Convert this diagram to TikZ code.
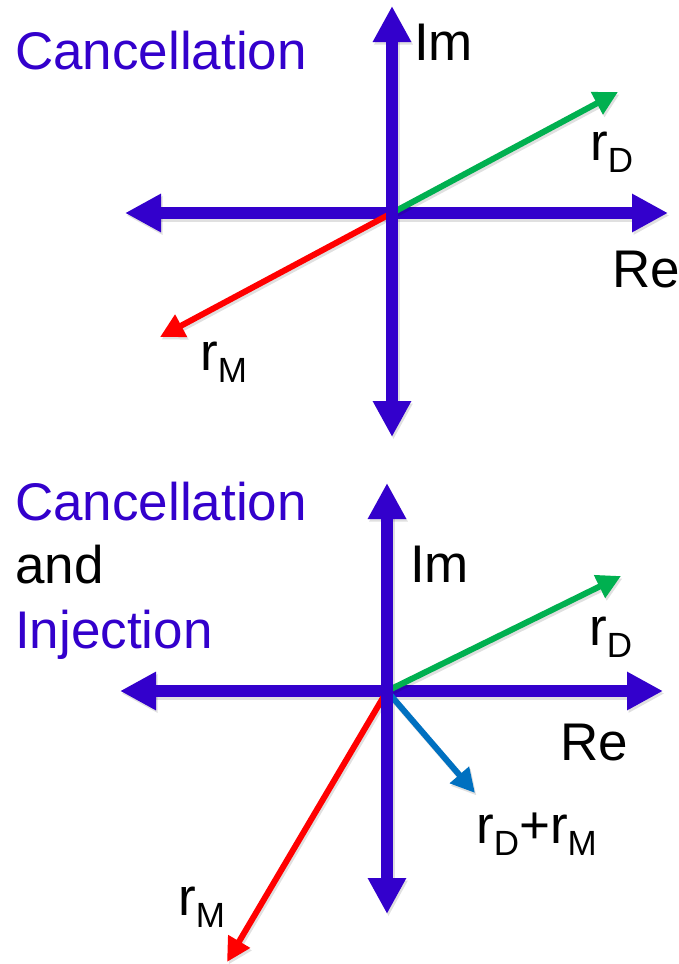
\documentclass[tikz,border=0pt]{standalone}
\usepackage{fontspec}
\setmainfont{Liberation Sans}
\usetikzlibrary{arrows.meta}
\definecolor{axpurple}{RGB}{51,0,204}
\definecolor{vgreen}{RGB}{0,176,80}
\definecolor{vred}{RGB}{255,0,0}
\definecolor{vblue}{RGB}{0,112,192}
\newcommand\subtxt[1]{\raisebox{-12pt}{\fontsize{35}{35}\selectfont #1}}
\tikzset{
  axis/.style={draw=axpurple, line width=12pt, {Triangle[length=36pt,width=36pt]}-{Triangle[length=36pt,width=36pt]}},
  axshadow/.style={draw=black, opacity=0.12, line width=12pt, {Triangle[length=36pt,width=36pt]}-{Triangle[length=36pt,width=36pt]}, transform canvas={shift={(1.5pt,-2.5pt)}}},
  vec/.style={line width=6pt, -{Triangle[length=24pt,width=24pt]}},
  vshadow/.style={draw=black, opacity=0.12, line width=6pt, -{Triangle[length=24pt,width=24pt]}, transform canvas={shift={(1.5pt,-2.5pt)}}},
  lbl/.style={anchor=base west, inner sep=0pt, font=\fontsize{53}{60}\selectfont},
}
\begin{document}
\begin{tikzpicture}[x=1pt,y=-1pt]
\useasboundingbox (0,0) rectangle (679,964);
\fill[white] (0,0) rectangle (679,964);

% ---------- top diagram ----------
\coordinate (o1) at (392,213);
\coordinate (t1up) at (392,6);
\coordinate (t1dn) at (392,437);
\coordinate (t1lf) at (125,213);
\coordinate (t1rt) at (668,213);
\coordinate (g1) at (618,92);
\coordinate (r1) at (160,337);

\draw[axshadow] (t1lf) -- (t1rt);
\draw[axshadow] (t1dn) -- (t1up);
\draw[axis] (t1lf) -- (t1rt);
\draw[vshadow] (o1) -- (g1);
\draw[vshadow] (o1) -- (r1);
\draw[vec, vgreen] (o1) -- (g1);
\draw[vec, vred] (o1) -- (r1);
\draw[axis] (t1dn) -- (t1up);

\node[lbl, text=axpurple] (c1) at (15,69) {Cancellation};
\node[lbl] (im1) at (414,60) {Im};
\node[lbl] (rd1) at (590,160) {r\subtxt{D}};
\node[lbl] (re1) at (612,287) {Re};
\node[lbl] (rm1) at (200,370) {r\subtxt{M}};

% ---------- bottom diagram ----------
\coordinate (o2) at (387,691);
\coordinate (t2up) at (387,483);
\coordinate (t2dn) at (387,914);
\coordinate (t2lf) at (120,691);
\coordinate (t2rt) at (663,691);
\coordinate (g2) at (621,576);
\coordinate (b2) at (475,793);
\coordinate (r2) at (227,962);

\draw[axshadow] (t2lf) -- (t2rt);
\draw[axshadow] (t2dn) -- (t2up);
\draw[axis] (t2lf) -- (t2rt);
\draw[vshadow] (o2) -- (g2);
\draw[vshadow] (o2) -- (b2);
\draw[vshadow] (o2) -- (r2);
\draw[vec, vgreen] (o2) -- (g2);
\draw[vec, vblue] (o2) -- (b2);
\draw[vec, vred] (o2) -- (r2);
\draw[axis] (t2dn) -- (t2up);

\node[lbl, text=axpurple] (c2) at (15,520) {Cancellation};
\node[lbl] (and2) at (15,583) {and};
\node[lbl, text=axpurple] (inj2) at (15,648) {Injection};
\node[lbl] (im2) at (410,582) {Im};
\node[lbl] (rd2) at (589,645) {r\subtxt{D}};
\node[lbl] (re2) at (560,760) {Re};
\node[lbl] (rdm2) at (476,843) {r\subtxt{D}+r\subtxt{M}};
\node[lbl] (rm2) at (178,915) {r\subtxt{M}};
\end{tikzpicture}
\end{document}
